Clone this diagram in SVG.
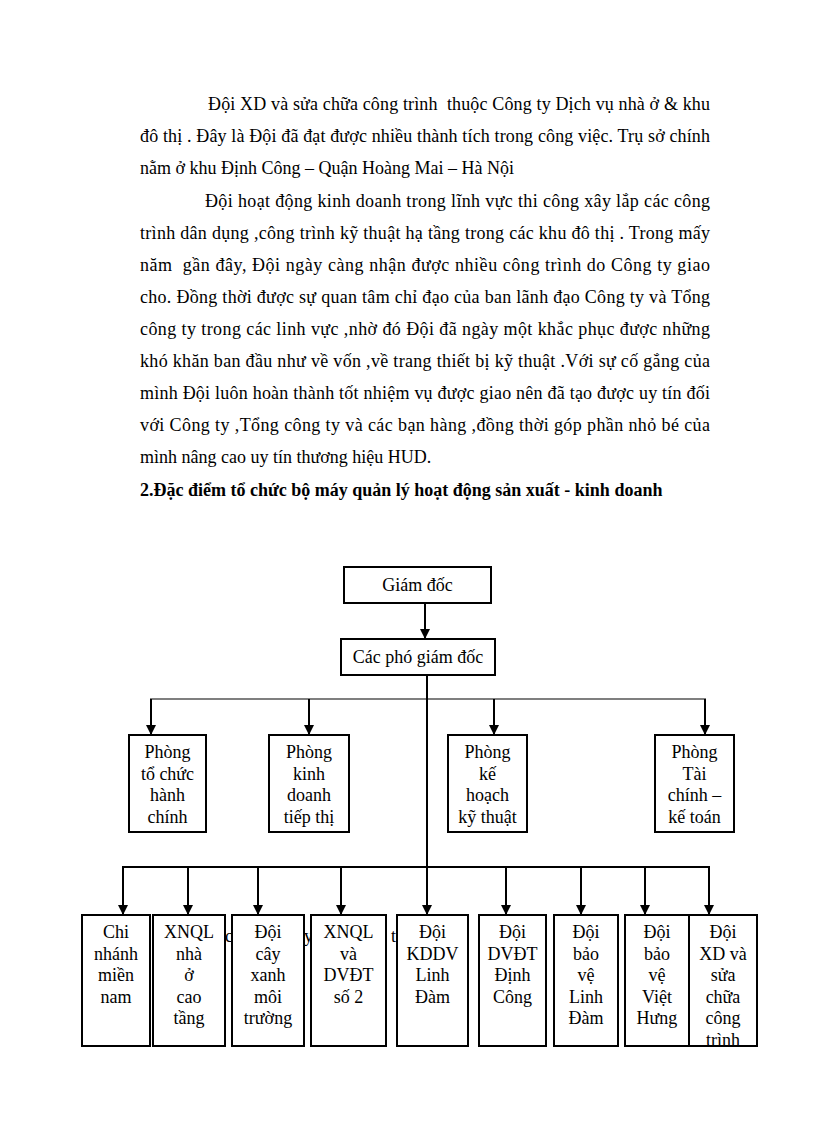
<svg xmlns="http://www.w3.org/2000/svg" width="816" height="1123" viewBox="0 0 816 1123">
<style>
text{font-family:"Liberation Serif","Times New Roman",serif;font-size:18px;fill:#000;white-space:pre}
.b{font-weight:bold}
.box{fill:#fff;stroke:#000;stroke-width:2}
.c{text-anchor:middle}
.ln{stroke:#000;stroke-width:2;fill:none}
.thin{stroke:#000;stroke-width:1.2;fill:none}
.stray{font-size:18px}
</style>
<defs>
<marker id="ad" markerUnits="userSpaceOnUse" markerWidth="10" markerHeight="12" refX="5" refY="11" orient="0" viewBox="0 0 10 12">
<path d="M0,1 L10,1 L5,11 Z" fill="#000"/>
</marker>
<clipPath id="clip9"><rect x="689" y="915" width="68" height="130"/></clipPath>
</defs>

<g id="body-text">
<text xml:space="preserve" x="208" y="110" textLength="502" lengthAdjust="spacing">Đội XD và sửa chữa công trình  thuộc Công ty Dịch vụ nhà ở &amp; khu</text>
<text x="140" y="142" textLength="570" lengthAdjust="spacing">đô thị . Đây là Đội đã đạt được nhiều thành tích trong công việc. Trụ sở chính</text>
<text x="140" y="174">nằm ở khu Định Công – Quận Hoàng Mai – Hà Nội</text>
<text x="205" y="207" textLength="505" lengthAdjust="spacing">Đội hoạt động kinh doanh trong lĩnh vực thi công xây lắp các công</text>
<text x="140" y="239" textLength="570" lengthAdjust="spacing">trình dân dụng ,công trình kỹ thuật hạ tầng trong các khu đô thị . Trong mấy</text>
<text xml:space="preserve" x="140" y="271" textLength="570" lengthAdjust="spacing">năm  gần đây, Đội ngày càng nhận được nhiều công trình do Công ty giao</text>
<text x="140" y="303" textLength="570" lengthAdjust="spacing">cho. Đồng thời được sự quan tâm chỉ đạo của ban lãnh đạo Công ty và Tổng</text>
<text x="140" y="335" textLength="570" lengthAdjust="spacing">công ty trong các linh vực ,nhờ đó Đội đã ngày một khắc phục được những</text>
<text x="140" y="367" textLength="570" lengthAdjust="spacing">khó khăn ban đầu như về vốn ,về trang thiết bị kỹ thuật .Với sự cố gắng của</text>
<text x="140" y="399" textLength="570" lengthAdjust="spacing">mình Đội luôn hoàn thành tốt nhiệm vụ được giao nên đã tạo được uy tín đối</text>
<text x="140" y="431" textLength="570" lengthAdjust="spacing">với Công ty ,Tổng công ty và các bạn hàng ,đồng thời góp phần nhỏ bé của</text>
<text x="140" y="463">mình nâng cao uy tín thương hiệu HUD.</text>
<text class="b" x="140" y="496">2.Đặc điểm tổ chức bộ máy quản lý hoạt động sản xuất - kinh doanh</text>
</g>

<g id="stray-letters">
<text class="stray" x="225" y="942">c</text>
<text class="stray" x="304" y="942">y</text>
<text class="stray" x="391" y="942">t</text>
</g>

<g id="connectors">
<line class="ln" x1="425" y1="603" x2="425" y2="639" marker-end="url(#ad)"/>
<line class="ln" x1="427" y1="675" x2="427" y2="915" marker-end="url(#ad)"/>
<line class="thin" x1="150" y1="699" x2="706" y2="699"/>
<line class="ln" x1="151" y1="699" x2="151" y2="735" marker-end="url(#ad)"/>
<line class="ln" x1="309" y1="699" x2="309" y2="735" marker-end="url(#ad)"/>
<line class="ln" x1="494" y1="699" x2="494" y2="735" marker-end="url(#ad)"/>
<line class="ln" x1="705" y1="699" x2="705" y2="735" marker-end="url(#ad)"/>
<line class="ln" x1="122" y1="867" x2="710" y2="867"/>
<line class="ln" x1="123" y1="867" x2="123" y2="915" marker-end="url(#ad)"/>
<line class="ln" x1="188" y1="867" x2="188" y2="915" marker-end="url(#ad)"/>
<line class="ln" x1="258" y1="867" x2="258" y2="915" marker-end="url(#ad)"/>
<line class="ln" x1="341" y1="867" x2="341" y2="915" marker-end="url(#ad)"/>
<line class="ln" x1="506" y1="867" x2="506" y2="915" marker-end="url(#ad)"/>
<line class="ln" x1="581" y1="867" x2="581" y2="915" marker-end="url(#ad)"/>
<line class="ln" x1="645" y1="867" x2="645" y2="915" marker-end="url(#ad)"/>
<line class="ln" x1="709" y1="867" x2="709" y2="915" marker-end="url(#ad)"/>
</g>

<g id="giam-doc">
<rect class="box" x="344" y="567" width="147" height="36"/>
<text class="c" x="417.5" y="591">Giám đốc</text>
</g>
<g id="pho-giam-doc">
<rect class="box" x="341" y="639" width="154" height="36"/>
<text class="c" x="418" y="663">Các phó giám đốc</text>
</g>

<g id="phong-tchc">
<rect class="box" x="129" y="735" width="77" height="97"/>
<text class="c" x="167.5" y="758">Phòng</text>
<text class="c" x="167.5" y="779.5">tổ chức</text>
<text class="c" x="167.5" y="801">hành</text>
<text class="c" x="167.5" y="822.5">chính</text>
</g>
<g id="phong-kdtt">
<rect class="box" x="269" y="735" width="80" height="97"/>
<text class="c" x="309" y="758">Phòng</text>
<text class="c" x="309" y="779.5">kinh</text>
<text class="c" x="309" y="801">doanh</text>
<text class="c" x="309" y="822.5">tiếp thị</text>
</g>
<g id="phong-khkt">
<rect class="box" x="448" y="735" width="79" height="97"/>
<text class="c" x="487.5" y="758">Phòng</text>
<text class="c" x="487.5" y="779.5">kế</text>
<text class="c" x="487.5" y="801">hoạch</text>
<text class="c" x="487.5" y="822.5">kỹ thuật</text>
</g>
<g id="phong-tckt">
<rect class="box" x="655" y="735" width="79" height="97"/>
<text class="c" x="694.5" y="758">Phòng</text>
<text class="c" x="694.5" y="779.5">Tài</text>
<text class="c" x="694.5" y="801">chính –</text>
<text class="c" x="694.5" y="822.5">kế toán</text>
</g>

<g id="chi-nhanh">
<rect class="box" x="82" y="915" width="68" height="131"/>
<text class="c" x="116" y="938">Chi</text>
<text class="c" x="116" y="959.5">nhánh</text>
<text class="c" x="116" y="981">miền</text>
<text class="c" x="116" y="1002.5">nam</text>
</g>
<g id="xnql-cao-tang">
<rect class="box" x="153" y="915" width="72" height="131"/>
<text class="c" x="189" y="938">XNQL</text>
<text class="c" x="189" y="959.5">nhà</text>
<text class="c" x="189" y="981">ở</text>
<text class="c" x="189" y="1002.5">cao</text>
<text class="c" x="189" y="1024">tầng</text>
</g>
<g id="doi-cay-xanh">
<rect class="box" x="232" y="915" width="72" height="131"/>
<text class="c" x="268" y="938">Đội</text>
<text class="c" x="268" y="959.5">cây</text>
<text class="c" x="268" y="981">xanh</text>
<text class="c" x="268" y="1002.5">môi</text>
<text class="c" x="268" y="1024">trường</text>
</g>
<g id="xnql-dvdt2">
<rect class="box" x="311" y="915" width="75" height="131"/>
<text class="c" x="348.5" y="938">XNQL</text>
<text class="c" x="348.5" y="959.5">và</text>
<text class="c" x="348.5" y="981">DVĐT</text>
<text class="c" x="348.5" y="1002.5">số 2</text>
</g>
<g id="doi-kddv">
<rect class="box" x="397" y="915" width="71" height="131"/>
<text class="c" x="432.5" y="938">Đội</text>
<text class="c" x="432.5" y="959.5">KDDV</text>
<text class="c" x="432.5" y="981">Linh</text>
<text class="c" x="432.5" y="1002.5">Đàm</text>
</g>
<g id="doi-dvdt">
<rect class="box" x="479" y="915" width="67" height="131"/>
<text class="c" x="512.5" y="938">Đội</text>
<text class="c" x="512.5" y="959.5">DVĐT</text>
<text class="c" x="512.5" y="981">Định</text>
<text class="c" x="512.5" y="1002.5">Công</text>
</g>
<g id="doi-bao-ve-ld">
<rect class="box" x="554" y="915" width="64" height="131"/>
<text class="c" x="586" y="938">Đội</text>
<text class="c" x="586" y="959.5">bảo</text>
<text class="c" x="586" y="981">vệ</text>
<text class="c" x="586" y="1002.5">Linh</text>
<text class="c" x="586" y="1024">Đàm</text>
</g>
<g id="doi-bao-ve-vh">
<rect class="box" x="625" y="915" width="64" height="131"/>
<text class="c" x="657" y="938">Đội</text>
<text class="c" x="657" y="959.5">bảo</text>
<text class="c" x="657" y="981">vệ</text>
<text class="c" x="657" y="1002.5">Việt</text>
<text class="c" x="657" y="1024">Hưng</text>
</g>
<g id="doi-xd-sua-chua">
<rect class="box" x="689" y="915" width="68" height="131"/>
<g clip-path="url(#clip9)">
<text class="c" x="723" y="938">Đội</text>
<text class="c" x="723" y="959.5">XD và</text>
<text class="c" x="723" y="981">sửa</text>
<text class="c" x="723" y="1002.5">chữa</text>
<text class="c" x="723" y="1024">công</text>
<text class="c" x="723" y="1045.5">trình</text>
</g>
</g>
</svg>
